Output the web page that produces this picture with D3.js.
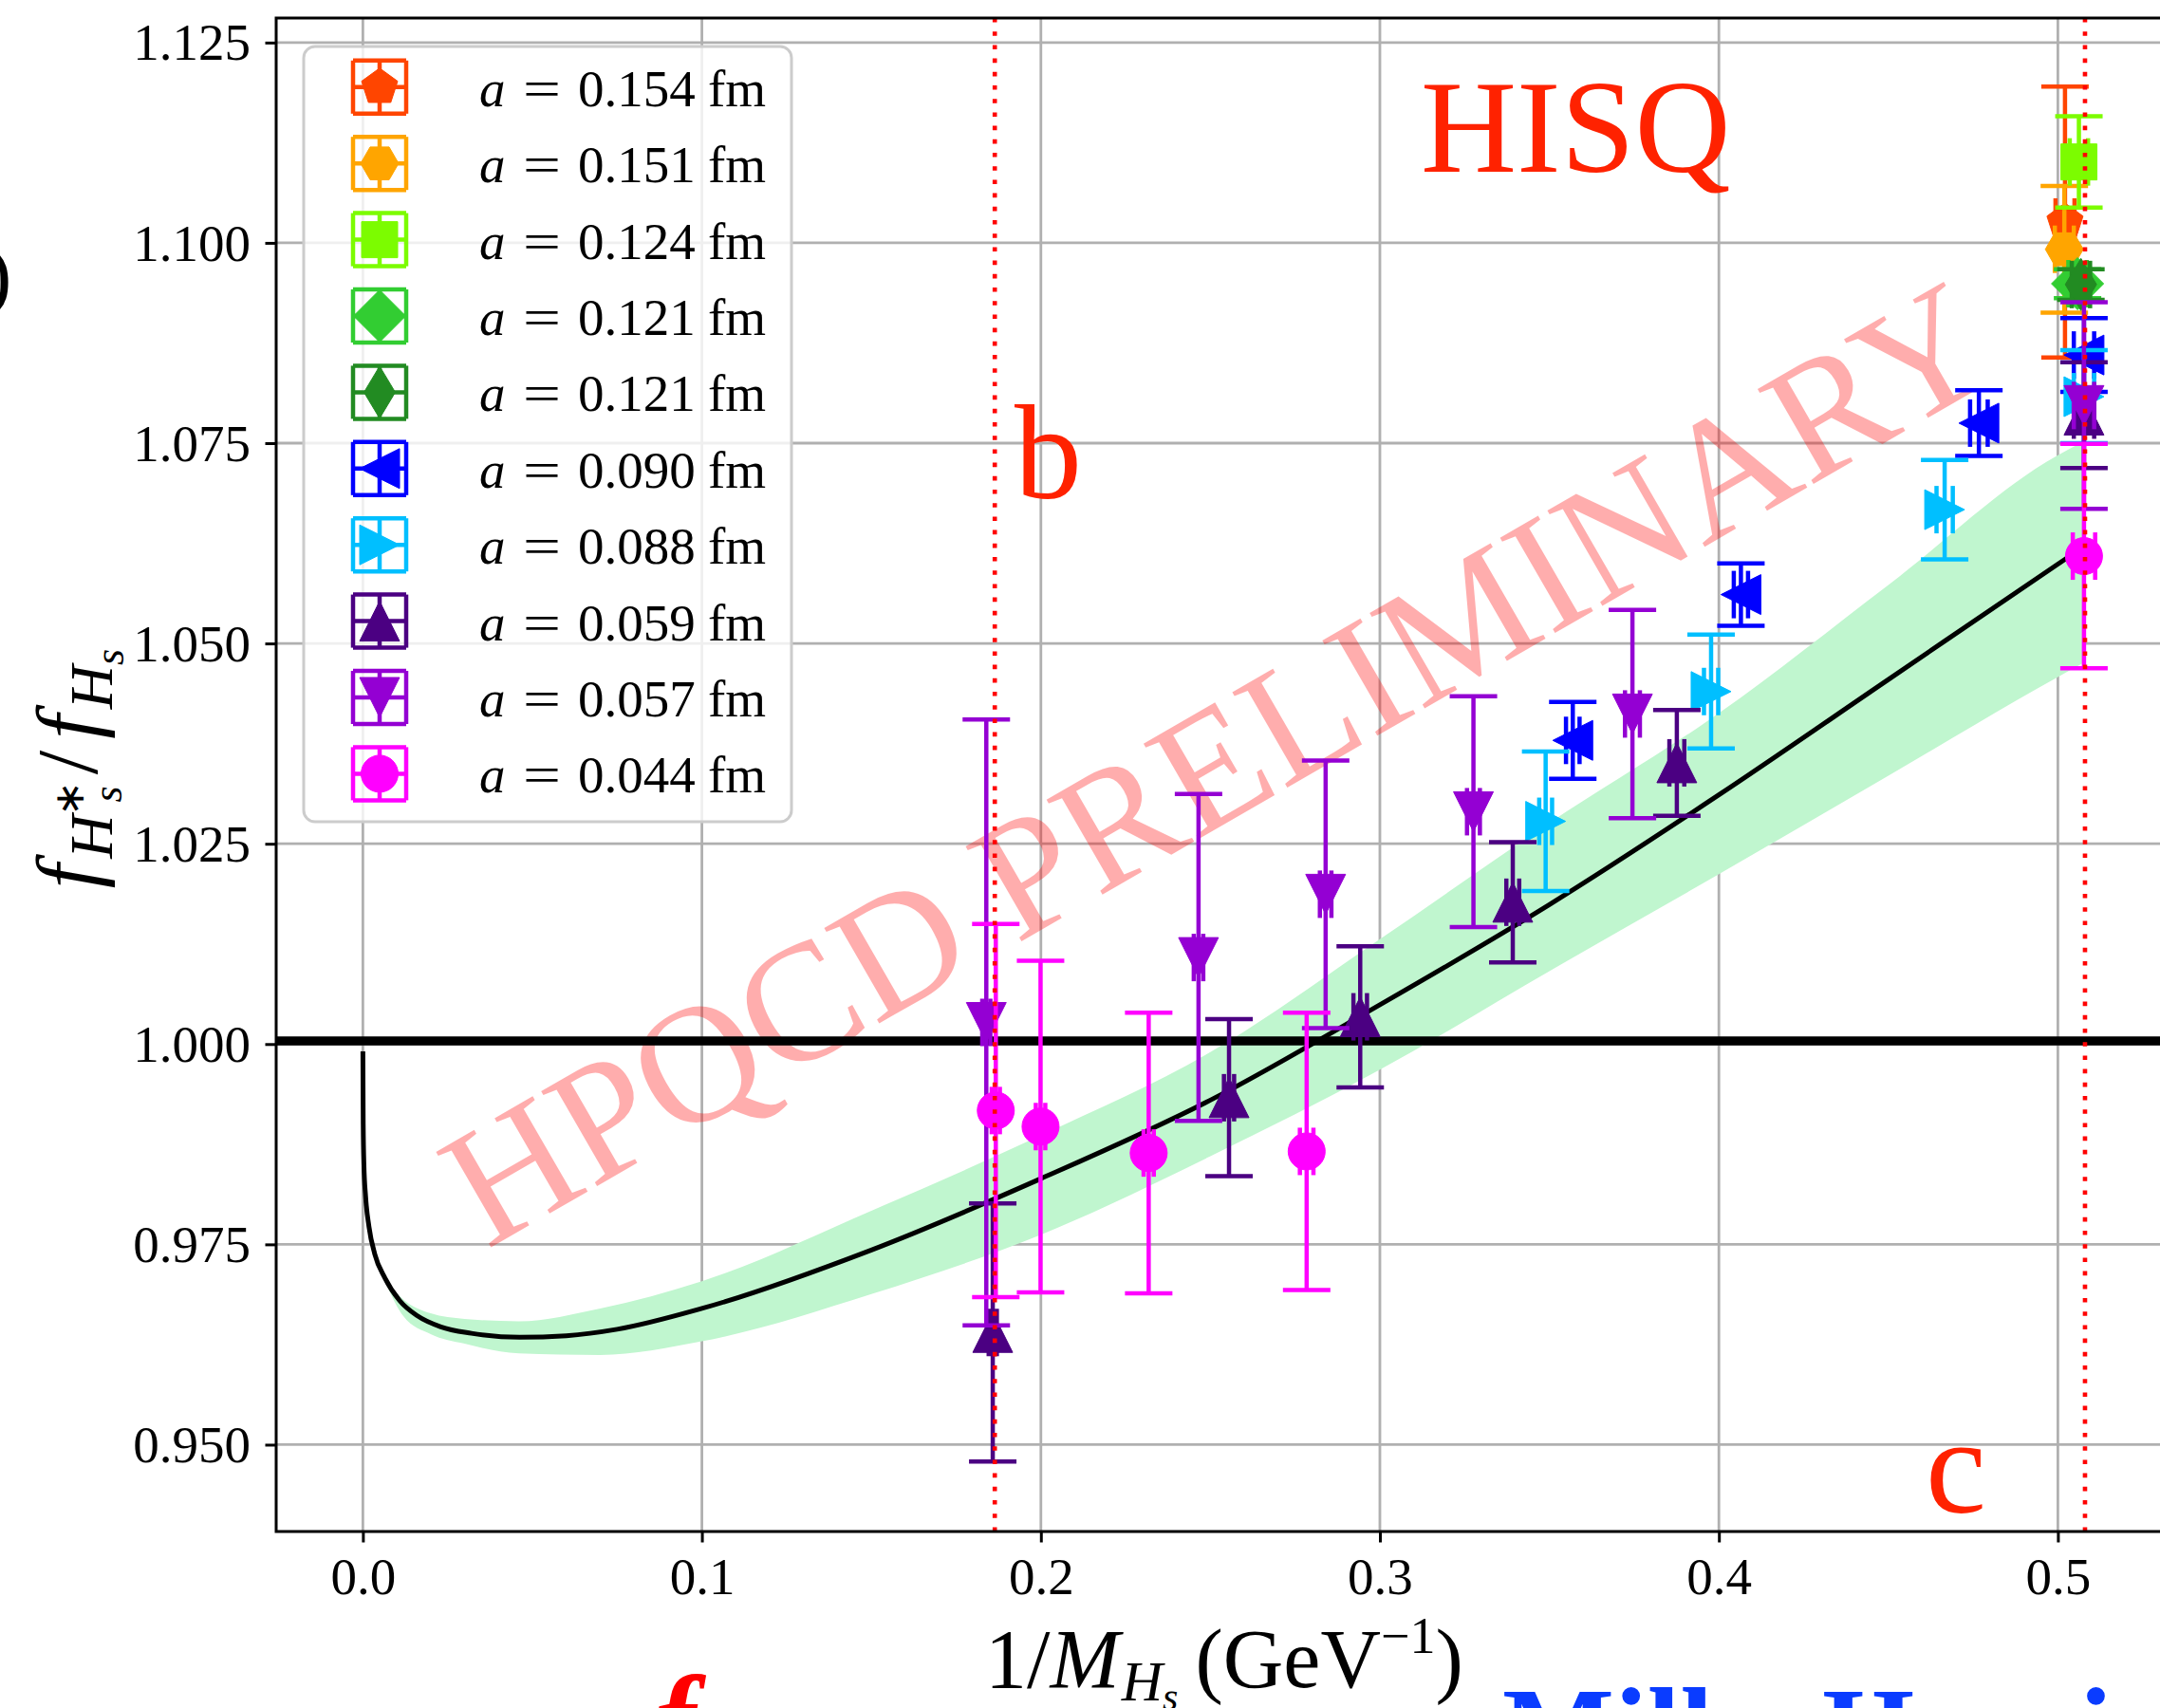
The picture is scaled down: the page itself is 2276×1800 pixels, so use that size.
<!DOCTYPE html>
<html>
<head>
<meta charset="utf-8">
<script src="https://cdn.jsdelivr.net/npm/d3@7"></script>
<style>
  html, body { margin: 0; padding: 0; background: #ffffff; }
  svg { display: block; }
</style>
</head>
<body>
<svg id="chart" width="2276" height="1800"></svg>
<script>
// ---- ensembles (legend order) ----
const spacings = ["0.154", "0.151", "0.124", "0.121", "0.121", "0.090", "0.088", "0.059", "0.057", "0.044"];
const seriesColors = ["#ff4500", "#ffa500", "#7cfc00", "#32cd32", "#228b22", "#0000ff", "#00bfff", "#4b0082", "#9400d3", "#ff00ff"];
const seriesShapes = ["pentagon", "hexagon", "square", "diamond", "thinDiamond", "triLeft", "triRight", "triUp", "triDown", "circle"];

// 1/M_Hs in GeV^-1 and its uncertainty
const invMass = [
  [0.5021], [0.5019], [0.5062], [0.5058], [0.5068],
  [0.3569, 0.4065, 0.4767, 0.5077],
  [0.3489, 0.3977, 0.4666, 0.5077],
  [0.1858, 0.2555, 0.2942, 0.3392, 0.3876, 0.5077],
  [0.1839, 0.2465, 0.2840, 0.3276, 0.3745, 0.5077],
  [0.1867, 0.1999, 0.2318, 0.2784, 0.5077]
];
const invMassErr = [
  [0.0028], [0.0028], [0.0027], [0.0027], [0.0027],
  [0.0020, 0.0021, 0.0026, 0.0030],
  [0.0019, 0.0021, 0.0024, 0.0030],
  [0.0012, 0.0015, 0.0020, 0.0019, 0.0022, 0.0030],
  [0.0012, 0.0014, 0.0017, 0.0019, 0.0022, 0.0030],
  [0.0012, 0.0014, 0.0015, 0.0020, 0.0033]
];
// f_{H_s^*}/f_{H_s} and its uncertainty
const ratio = [
  [1.1026], [1.0992], [1.1101], [1.0949], [1.0948],
  [1.0379, 1.0561, 1.0775, 1.0860],
  [1.0278, 1.0440, 1.0667, 1.0808],
  [0.9640, 0.9933, 1.0034, 1.0177, 1.0351, 1.0785],
  [1.0027, 1.0108, 1.0187, 1.0290, 1.0412, 1.0797],
  [0.9917, 0.9897, 0.9864, 0.9866, 1.0609]
];
const ratioErr = [
  [0.0169], [0.0079], [0.0057], [0.0018], [0.0019],
  [0.0048, 0.0039, 0.0041, 0.0046],
  [0.0087, 0.0071, 0.0062, 0.0058],
  [0.0161, 0.0098, 0.0088, 0.0075, 0.0066, 0.0066],
  [0.0378, 0.0204, 0.0167, 0.0144, 0.0130, 0.0129],
  [0.0233, 0.0207, 0.0175, 0.0173, 0.0140]
];

// continuum fit: central curve
const fitX = [0.0, 0.0001, 0.0003, 0.0008, 0.0018, 0.0035, 0.0065, 0.0108, 0.016, 0.023, 0.032, 0.0462,
              0.060, 0.075, 0.100, 0.150, 0.200, 0.250, 0.300, 0.350, 0.400, 0.450, 0.500, 0.5077];
const fitY = [0.9991, 0.9900, 0.9850, 0.9810, 0.9772, 0.9738, 0.9708, 0.9680, 0.9661, 0.9647, 0.9639, 0.9634,
              0.9636, 0.9644, 0.9670, 0.9743, 0.9832, 0.9930, 1.0049, 1.0174, 1.0311, 1.0455, 1.0599, 1.0621];
// continuum fit: error band
const bandX    = [0.0070, 0.0120, 0.020, 0.030, 0.046, 0.070, 0.100, 0.150, 0.200, 0.250, 0.300, 0.350, 0.400, 0.450, 0.500, 0.5077];
const bandLow  = [0.9699, 0.9660, 0.9638, 0.9626, 0.9614, 0.9612, 0.9629, 0.9688, 0.9762, 0.9860, 0.9968, 1.0091, 1.0212, 1.0335, 1.0458, 1.0476];
const bandHigh = [0.9703, 0.9681, 0.9664, 0.9657, 0.9654, 0.9670, 0.9704, 0.9792, 0.9886, 0.9990, 1.0131, 1.0276, 1.0413, 1.0573, 1.0735, 1.0752];

const xTicks = [0.0, 0.1, 0.2, 0.3, 0.4, 0.5];
const yTicks = [0.950, 0.975, 1.000, 1.025, 1.050, 1.075, 1.100, 1.125];
const xDomain = [-0.02558, 0.55];
const yDomain = [0.93916, 1.12806];
const refLevel = 1.0004;            // horizontal reference line
const markLines = [0.1864, 0.5080]; // b and c mass markers

// ---- layout ----
const W = 2276, H = 1800;
const plot = { left: 291, top: 19, right: 2347, bottom: 1614 };
const serif = "'Liberation Serif', 'Times New Roman', serif";
const labelRed = "#ff2200";

const svg = d3.select("#chart");
const x = d3.scaleLinear().domain(xDomain).range([plot.left, plot.right]);
const y = d3.scaleLinear().domain(yDomain).range([plot.bottom, plot.top]);

svg.append("defs").append("clipPath").attr("id", "plotClip")
  .append("rect").attr("x", plot.left).attr("y", plot.top)
  .attr("width", plot.right - plot.left).attr("height", plot.bottom - plot.top);

const area = svg.append("g").attr("clip-path", "url(#plotClip)");

// grid
area.selectAll(".gx").data(xTicks).join("line")
  .attr("x1", d => x(d)).attr("x2", d => x(d))
  .attr("y1", plot.top).attr("y2", plot.bottom)
  .attr("stroke", "#b0b0b0").attr("stroke-width", 2.8);
area.selectAll(".gy").data(yTicks).join("line")
  .attr("x1", plot.left).attr("x2", plot.right)
  .attr("y1", d => y(d)).attr("y2", d => y(d))
  .attr("stroke", "#b0b0b0").attr("stroke-width", 2.8);

// fit band
const bandData = bandX.map((v, i) => ({ x: v, lo: bandLow[i], hi: bandHigh[i] }));
area.append("path").datum(bandData)
  .attr("d", d3.area().x(d => x(d.x)).y0(d => y(d.lo)).y1(d => y(d.hi)).curve(d3.curveMonotoneX))
  .attr("fill", "#c0f6cf");

// watermark
area.append("text")
  .attr("transform", "translate(513,1317) rotate(-30)")
  .attr("font-family", serif).attr("font-size", 177)
  .attr("fill", "#ff0000").attr("fill-opacity", 0.32)
  .text("HPQCD PRELIMINARY");

// fit curve
const fitData = fitX.map((v, i) => ({ x: v, y: fitY[i] }));
area.append("path").datum(fitData)
  .attr("d", d3.line().x(d => x(d.x)).y(d => y(d.y)).curve(d3.curveMonotoneX))
  .attr("fill", "none").attr("stroke", "#000").attr("stroke-width", 5)
  .attr("stroke-linejoin", "round");

// marker shapes
function markerPath(shape) {
  const poly = pts => "M" + pts.map(p => p[0].toFixed(2) + "," + p[1].toFixed(2)).join("L") + "Z";
  switch (shape) {
    case "pentagon": return poly(d3.range(5).map(k => { const a = (-90 + 72 * k) * Math.PI / 180; return [20 * Math.cos(a), 20 * Math.sin(a)]; }));
    case "hexagon": return poly(d3.range(6).map(k => { const a = (60 * k) * Math.PI / 180; return [20 * Math.cos(a), 20 * Math.sin(a)]; }));
    case "square": return poly([[-19, -19], [19, -19], [19, 19], [-19, 19]]);
    case "diamond": return poly([[0, -27.5], [27.5, 0], [0, 27.5], [-27.5, 0]]);
    case "thinDiamond": return poly([[0, -27.5], [16.5, 0], [0, 27.5], [-16.5, 0]]);
    case "triUp": return poly([[0, -21], [21, 21], [-21, 21]]);
    case "triDown": return poly([[0, 21], [21, -21], [-21, -21]]);
    case "triLeft": return poly([[-21, 0], [21, -21], [21, 21]]);
    case "triRight": return poly([[21, 0], [-21, -21], [-21, 21]]);
    default: return "M19.5,0A19.5,19.5 0 1,1 -19.5,0A19.5,19.5 0 1,1 19.5,0Z";
  }
}

// reference line
area.append("line")
  .attr("x1", plot.left).attr("x2", plot.right)
  .attr("y1", y(refLevel)).attr("y2", y(refLevel))
  .attr("stroke", "#000").attr("stroke-width", 9.5);

// data with error bars
const lw = 4.5, cap = 25;
spacings.forEach((lab, s) => {
  const col = seriesColors[s];
  const pts = invMass[s].map((v, i) => ({ x: v, xe: invMassErr[s][i], y: ratio[s][i], ye: ratioErr[s][i] }));
  const g = area.append("g");
  pts.forEach(p => {
    const cx = x(p.x), cy = y(p.y);
    const lines = [
      [cx, y(p.y - p.ye), cx, y(p.y + p.ye)],
      [x(p.x - p.xe), cy, x(p.x + p.xe), cy],
      [cx - cap, y(p.y - p.ye), cx + cap, y(p.y - p.ye)],
      [cx - cap, y(p.y + p.ye), cx + cap, y(p.y + p.ye)],
      [x(p.x - p.xe), cy - cap, x(p.x - p.xe), cy + cap],
      [x(p.x + p.xe), cy - cap, x(p.x + p.xe), cy + cap]
    ];
    g.selectAll(null).data(lines).join("line")
      .attr("x1", d => d[0]).attr("y1", d => d[1]).attr("x2", d => d[2]).attr("y2", d => d[3])
      .attr("stroke", col).attr("stroke-width", lw);
  });
  g.selectAll("path").data(pts).join("path")
    .attr("d", markerPath(seriesShapes[s]))
    .attr("transform", d => `translate(${x(d.x)},${y(d.y)})`)
    .attr("fill", col).attr("stroke", col).attr("stroke-width", 1);
});

// b / c mass markers
area.selectAll(".mark").data(markLines).join("line")
  .attr("x1", d => x(d)).attr("x2", d => x(d))
  .attr("y1", plot.top).attr("y2", plot.bottom)
  .attr("stroke", "#ff0000").attr("stroke-width", 4.6)
  .attr("stroke-dasharray", "4.6,9.6");

// spines
svg.append("path")
  .attr("d", `M${W + 5},${plot.top}H${plot.left}V${plot.bottom}H${W + 5}`)
  .attr("fill", "none").attr("stroke", "#000").attr("stroke-width", 3);

// axes
const xAxis = svg.append("g").attr("transform", `translate(0,${plot.bottom})`)
  .call(d3.axisBottom(x).tickValues(xTicks).tickFormat(d3.format(".1f")).tickSize(11.5));
const yAxis = svg.append("g").attr("transform", `translate(${plot.left},0)`)
  .call(d3.axisLeft(y).tickValues(yTicks).tickFormat(d3.format(".3f")).tickSize(11.5).tickPadding(15.5));
[xAxis, yAxis].forEach(a => {
  a.select(".domain").remove();
  a.selectAll("line").attr("stroke", "#000").attr("stroke-width", 3);
  a.selectAll("text").attr("font-family", serif).attr("font-size", 55).attr("fill", "#000");
});
xAxis.selectAll("text").attr("y", 66).attr("dy", 0);
yAxis.selectAll("text").attr("dy", "0.33em");

// axis titles
const xl = svg.append("text").attr("x", 1038).attr("y", 1778)
  .attr("font-family", serif).attr("font-size", 88).attr("fill", "#000");
xl.append("tspan").text("1/");
xl.append("tspan").attr("font-style", "italic").text("M");
xl.append("tspan").attr("font-style", "italic").attr("font-size", 60).attr("dy", 14).attr("dx", 2).text("H");
xl.append("tspan").attr("font-style", "italic").attr("font-size", 42).attr("dy", 10).text("s");
xl.append("tspan").attr("dy", -24).attr("dx", 18).text("(GeV");
xl.append("tspan").attr("font-size", 54).attr("dy", -36).text("\u22121");
xl.append("tspan").attr("dy", 36).text(")");

const yl = svg.append("text").attr("transform", "translate(102,810) rotate(-90)")
  .attr("text-anchor", "middle")
  .attr("font-family", serif).attr("font-size", 92).attr("fill", "#000");
yl.append("tspan").attr("font-style", "italic").text("f");
yl.append("tspan").attr("font-style", "italic").attr("font-size", 64).attr("dy", 16).attr("dx", 6).text("H");
yl.append("tspan").attr("font-size", 44).attr("dy", -30).attr("dx", -2).text("\u2217");
yl.append("tspan").attr("font-style", "italic").attr("font-size", 44).attr("dy", 40).attr("dx", -22).text("s");
yl.append("tspan").attr("dy", -26).attr("dx", 12).text("/");
yl.append("tspan").attr("font-style", "italic").attr("dx", 12).text("f");
yl.append("tspan").attr("font-style", "italic").attr("font-size", 64).attr("dy", 16).attr("dx", 6).text("H");
yl.append("tspan").attr("font-style", "italic").attr("font-size", 44).attr("dy", 12).text("s");

// annotations
svg.append("text").attr("x", 1497).attr("y", 181)
  .attr("font-family", serif).attr("font-size", 140).attr("fill", labelRed).text("HISQ");
svg.append("text").attr("x", 1069).attr("y", 525)
  .attr("font-family", serif).attr("font-size", 142).attr("fill", labelRed).text("b");
svg.append("text").attr("x", 2029).attr("y", 1594)
  .attr("font-family", serif).attr("font-size", 144).attr("fill", labelRed).text("c");

// legend
const leg = svg.append("g");
leg.append("rect").attr("x", 320).attr("y", 49).attr("width", 514).attr("height", 817)
  .attr("rx", 12).attr("fill", "#fff").attr("fill-opacity", 0.8)
  .attr("stroke", "#cccccc").attr("stroke-width", 3);
const lcap = 28;
spacings.forEach((lab, s) => {
  const cy = 91.8 + s * 80.4, cx = 400, col = seriesColors[s];
  const segs = [
    [cx, cy - lcap, cx, cy + lcap], [cx - lcap, cy, cx + lcap, cy],
    [cx - lcap, cy - lcap, cx + lcap, cy - lcap], [cx - lcap, cy + lcap, cx + lcap, cy + lcap],
    [cx - lcap, cy - lcap, cx - lcap, cy + lcap], [cx + lcap, cy - lcap, cx + lcap, cy + lcap]
  ];
  leg.selectAll(null).data(segs).join("line")
    .attr("x1", d => d[0]).attr("y1", d => d[1]).attr("x2", d => d[2]).attr("y2", d => d[3])
    .attr("stroke", col).attr("stroke-width", lw);
  leg.append("path").attr("d", markerPath(seriesShapes[s]))
    .attr("transform", `translate(${cx},${cy})`)
    .attr("fill", col).attr("stroke", col).attr("stroke-width", 1);
  const t = leg.append("text").attr("y", cy + 20).attr("font-family", serif).attr("font-size", 55).attr("fill", "#000");
  t.append("tspan").attr("x", 505).attr("font-style", "italic").text("a");
  t.append("tspan").attr("x", 551).attr("textLength", 40).attr("lengthAdjust", "spacingAndGlyphs").text("=");
  t.append("tspan").attr("x", 609).text(lab);
  t.append("tspan").attr("x", 746).text("fm");
});

// text running in from beyond the figure edges
svg.append("text").attr("x", -16).attr("y", 318)
  .attr("font-family", serif).attr("font-size", 85).attr("fill", "#000").text(")");
svg.append("text").attr("x", 690).attr("y", 1855)
  .attr("font-family", serif).attr("font-size", 130).attr("font-weight", "bold").attr("font-style", "italic")
  .attr("fill", "#ff0000").text("f");
const bt = svg.append("text").attr("y", 1865)
  .attr("font-family", serif).attr("font-size", 125).attr("font-weight", "bold").attr("fill", "#0a3cff");
bt.append("tspan").attr("x", 1583).text("Miller");
bt.append("tspan").attr("x", 1920).text("Harris");
</script>
</body>
</html>
